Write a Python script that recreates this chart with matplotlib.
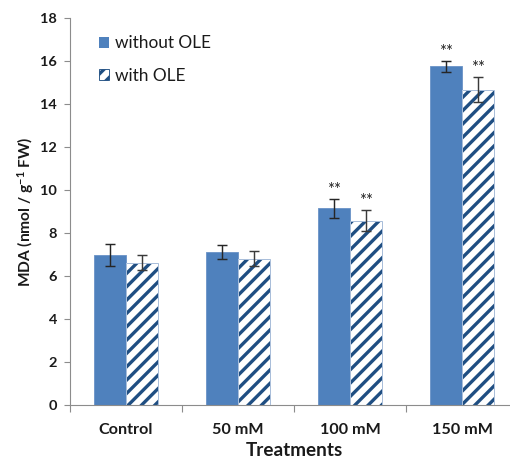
import matplotlib
matplotlib.use("Agg")
import matplotlib.pyplot as plt
from matplotlib.patches import Patch
import numpy as np

categories = ["Control", "50 mM", "100 mM", "150 mM"]
without_ole = [6.98, 7.12, 9.15, 15.75]
without_err = [0.51, 0.34, 0.45, 0.26]
with_ole = [6.62, 6.81, 8.57, 14.67]
with_err = [0.35, 0.33, 0.48, 0.58]
without_sig = ["", "", "**", "**"]
with_sig = ["", "", "**", "**"]
yticks = [0, 2, 4, 6, 8, 10, 12, 14, 16, 18]

plt.rcParams['font.family'] = ['Lato', 'DejaVu Sans']
plt.rcParams['mathtext.default'] = 'regular'
plt.rcParams['hatch.linewidth'] = 3.0
plt.rcParams['hatch.color'] = '#1F4E82'

DPI = 80
fig = plt.figure(figsize=(510 / DPI, 462 / DPI), dpi=DPI)
ax = fig.add_axes([70 / 510, 57 / 462, 448 / 510, 387 / 462])

solid = '#4F81BD'
stripe = '#1F4E82'
x = np.arange(len(categories))
w = 0.285

ax.bar(x - w / 2, without_ole, w, color=solid, edgecolor='#6D95C8', linewidth=0.8, zorder=2)
ax.bar(x + w / 2, with_ole, w, facecolor='white', edgecolor=stripe, linewidth=0, hatch='//', zorder=2)
ax.bar(x + w / 2, with_ole, w, fill=False, edgecolor='#A9BEDA', linewidth=0.9, zorder=3)

ax.errorbar(x - w / 2, without_ole, yerr=without_err, fmt='none', ecolor='#262626',
            elinewidth=1.3, capsize=4.5, capthick=1.3, zorder=4)
ax.errorbar(x + w / 2, with_ole, yerr=with_err, fmt='none', ecolor='#3a3a3a',
            elinewidth=1.3, capsize=4.5, capthick=1.3, zorder=4)

for xi, v, e, s in zip(x - w / 2, without_ole, without_err, without_sig):
    if s:
        ax.text(xi, v + e + 0.05, s, ha='center', va='bottom', fontsize=15, color='#222222')
for xi, v, e, s in zip(x + w / 2, with_ole, with_err, with_sig):
    if s:
        ax.text(xi, v + e + 0.05, s, ha='center', va='bottom', fontsize=15, color='#222222')

ax.set_xlim(-0.5, len(categories) - 0.5)
ax.set_ylim(0, 18)
ax.set_yticks(yticks)
ax.set_yticklabels([str(t) for t in yticks], fontweight='bold', fontsize=13)
ax.set_xticks(x)
ax.set_xticklabels(categories, fontweight='bold', fontsize=14.5)
ax.set_xticks(np.arange(len(categories) + 1) - 0.5, minor=True)
ax.tick_params(axis='x', which='major', length=0, pad=16, colors='#1a1a1a')
ax.tick_params(axis='x', which='minor', length=6, color='#8c8c8c', width=1)
ax.tick_params(axis='y', length=5.5, color='#8c8c8c', width=1, pad=6, colors='#1a1a1a')
ax.tick_params(axis='y', color='#8c8c8c')

for sp in ['top', 'right']:
    ax.spines[sp].set_visible(False)
for sp in ['left', 'bottom']:
    ax.spines[sp].set_color('#8c8c8c')
    ax.spines[sp].set_linewidth(1.0)

ax.set_xlabel('Treatments', fontweight='bold', fontsize=17, color='#1a1a1a', labelpad=5)
ax.set_ylabel('MDA (nmol / g$^{-1}$ FW)', fontweight='bold', fontsize=14, color='#1a1a1a', labelpad=4)

handles = [Patch(facecolor=solid, edgecolor=solid, linewidth=0),
           Patch(facecolor='white', edgecolor=stripe, hatch='//', linewidth=0.8)]
leg = ax.legend(handles, ['without OLE', 'with OLE'], loc='upper left',
                bbox_to_anchor=(0.03, 0.995), frameon=False, fontsize=15.5,
                handlelength=0.6, handleheight=0.6, handletextpad=0.35, labelspacing=0.95)
for t in leg.get_texts():
    t.set_color('#1a1a1a')

fig.savefig('out.png', dpi=DPI)
